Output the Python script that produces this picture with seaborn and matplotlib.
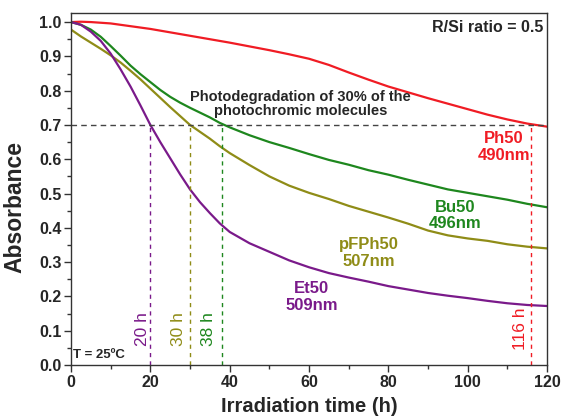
import matplotlib
matplotlib.use("Agg")
import matplotlib.pyplot as plt
import pandas as pd
import seaborn as sns
from matplotlib.ticker import MultipleLocator, FormatStrFormatter

# Irradiation time (h) and absorbance of each sample
time_h = [0, 2.5, 5, 7.5, 10, 12.5, 15, 17.5, 20, 22.5, 25, 27.5, 30, 32.5,
          35, 37.5, 40, 45, 50, 55, 60, 65, 70, 75, 80, 85, 90, 95, 100,
          105, 110, 115, 120]
ph50 = [1.000, 1.001, 1.000, 0.998, 0.996, 0.992, 0.988, 0.984, 0.980, 0.975,
        0.970, 0.965, 0.960, 0.955, 0.950, 0.945, 0.940, 0.929, 0.918, 0.906,
        0.893, 0.875, 0.853, 0.832, 0.812, 0.795, 0.778, 0.762, 0.746, 0.730,
        0.716, 0.704, 0.695]
bu50 = [1.000, 0.992, 0.978, 0.957, 0.930, 0.902, 0.873, 0.848, 0.825, 0.802,
        0.782, 0.765, 0.750, 0.736, 0.722, 0.706, 0.693, 0.670, 0.650, 0.633,
        0.615, 0.598, 0.584, 0.568, 0.555, 0.540, 0.526, 0.512, 0.502, 0.492,
        0.482, 0.470, 0.460]
pfph50 = [0.978, 0.958, 0.940, 0.922, 0.903, 0.882, 0.858, 0.833, 0.806, 0.779,
          0.752, 0.726, 0.700, 0.680, 0.660, 0.638, 0.618, 0.583, 0.550, 0.523,
          0.502, 0.484, 0.464, 0.447, 0.430, 0.412, 0.392, 0.378, 0.369, 0.362,
          0.352, 0.345, 0.340]
et50 = [1.000, 0.992, 0.972, 0.945, 0.908, 0.862, 0.812, 0.757, 0.700, 0.650,
        0.603, 0.556, 0.512, 0.475, 0.443, 0.413, 0.388, 0.355, 0.330, 0.305,
        0.285, 0.268, 0.255, 0.243, 0.230, 0.220, 0.210, 0.202, 0.195, 0.187,
        0.180, 0.175, 0.172]

samples = ["Ph50", "Bu50", "pFPh50", "Et50"]
wavelengths = ["490nm", "496nm", "507nm", "509nm"]
t_30pct = [116, 38, 30, 20]          # time for 30 % photodegradation (h)
colors = ["#f01c24", "#1e871e", "#8f8c17", "#7a1a8a"]

# label anchors (h, absorbance)
name_pos = [(109.1, 0.636), (96.8, 0.436), (75.0, 0.326), (60.6, 0.198)]
time_lbl_x = [113.4, 34.7, 27.1, 17.9]

df = pd.concat([
    pd.DataFrame({"time": time_h, "absorbance": vals, "sample": name})
    for name, vals in zip(samples, [ph50, bu50, pfph50, et50])
])

sns.set_style("white")
plt.rcParams["font.family"] = ["Liberation Sans", "DejaVu Sans"]

fig = plt.figure(figsize=(5.65, 4.19), dpi=100)
ax = fig.add_axes([0.1257, 0.1289, 0.8425, 0.8389])

sns.lineplot(data=df, x="time", y="absorbance", hue="sample",
             palette=dict(zip(samples, colors)), legend=False,
             linewidth=1.6, ax=ax)

# 30 % photodegradation threshold
ax.plot([0, 120], [0.7, 0.7], color="#444444", lw=1.0, ls=(0, (4, 3)))
for t, c in zip(t_30pct, colors):
    ax.plot([t, t], [0, 0.7], color=c, lw=1.0, ls=(0, (3, 3)))

for (x, y), name, wl, c in zip(name_pos, samples, wavelengths, colors):
    ax.text(x, y, f"{name}\n{wl}", color=c, fontsize=12, fontweight="bold",
            ha="center", va="center", linespacing=1.15)

for x, t, c in zip(time_lbl_x, t_30pct, colors):
    ax.text(x, 0.105, f"{t} h", color=c, fontsize=12.5, rotation=90,
            ha="center", va="center")

ax.text(57.9, 0.76, "Photodegradation of 30% of the\nphotochromic molecules",
        fontsize=10.5, fontweight="bold", ha="center", va="center",
        linespacing=1.0)
ax.text(119, 0.985, "R/Si ratio = 0.5", fontsize=11.5, fontweight="bold",
        ha="right", va="center")
ax.text(0.6, 0.03, "T = 25ºC", fontsize=9.5, fontweight="bold",
        ha="left", va="center")

ax.set_xlim(0, 120)
ax.set_ylim(0, 1.025)
ax.xaxis.set_major_locator(MultipleLocator(20))
ax.xaxis.set_minor_locator(MultipleLocator(10))
ax.yaxis.set_major_locator(MultipleLocator(0.1))
ax.yaxis.set_minor_locator(MultipleLocator(0.05))
ax.yaxis.set_major_formatter(FormatStrFormatter("%.1f"))
ax.tick_params(which="major", direction="out", length=5, width=1,
               color="#333333", bottom=True, left=True, labelsize=11.5, pad=2)
ax.tick_params(which="minor", direction="out", length=3, width=1,
               color="#333333", bottom=True, left=True)
for lbl in ax.get_xticklabels() + ax.get_yticklabels():
    lbl.set_fontweight("bold")
for sp in ax.spines.values():
    sp.set_color("#333333")
    sp.set_linewidth(1.0)

ax.set_xlabel("Irradiation time (h)", fontsize=14.5, fontweight="bold",
              labelpad=5)
ax.set_ylabel("Absorbance", fontsize=16.5, fontweight="bold")
ax.yaxis.set_label_coords(-0.093, 0.45)

fig.savefig("out.png", dpi=100)
